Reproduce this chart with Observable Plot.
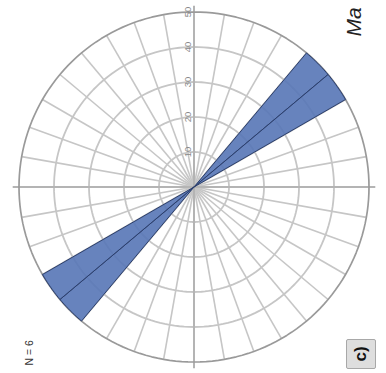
<!DOCTYPE html>
<html>
<head>
<meta charset="utf-8">
<script src="https://cdn.jsdelivr.net/npm/d3@7"></script>
<script src="https://cdn.jsdelivr.net/npm/@observablehq/plot@0.6"></script>
<style>
  html, body { margin: 0; padding: 0; background: #fff; }
  #chart { position: relative; width: 386px; height: 373px; overflow: hidden; }
  #chart svg { display: block; }
  .tag {
    position: absolute; left: 346px; top: 339px; width: 30px; height: 30px;
    box-sizing: border-box; background: #dedede; border: 1px solid #a8a8a8; border-radius: 2px;
    display: flex; align-items: center; justify-content: center;
  }
  .tag span {
    display: inline-block; transform: rotate(-90deg);
    font: 600 17px "Liberation Sans", Arial, sans-serif; color: #111;
  }
</style>
</head>
<body>
<div id="chart"></div>
<script>
// Rose diagram of strike azimuths (bidirectional, 10° bins), radius in percent of N.
const N = 6;
const binStart = [130, 140];      // azimuth of each occupied bin, degrees
const binCounts = [3, 3];         // measurements in each bin
const binWidth = 10;
const ringValues = [10, 20, 30, 40, 50];
const ringLabels = ["10", "20", "30", "40", "50"];
const spokeAzimuths = d3.range(0, 360, 10);
const axisAzimuths = [0, 90, 180, 270];
const title = "Ma";
const panelTag = "c)";

// layout
const W = 386, H = 373;
const CX = 193.5, CY = 186.5;     // centre of the rose, px
const R = 175;                    // px radius of the outer ring
const rMax = ringValues[ringValues.length - 1];
const k = R / rMax;

// the diagram is drawn turned a quarter turn: north points left
const toXY = (az, r) => {
  const t = (180 - az) * Math.PI / 180;
  return [r * Math.cos(t), r * Math.sin(t)];
};

// ring outlines
const ringPts = [];
for (const r of ringValues) {
  for (let a = 0; a <= 360; a += 2) {
    const [x, y] = toXY(a, r);
    ringPts.push({ring: r, x, y, outer: r === rMax});
  }
}

// spokes
const spokes = spokeAzimuths.map(az => {
  const [x2, y2] = toXY(az, rMax);
  return {x1: 0, y1: 0, x2, y2};
});
const axes = axisAzimuths.map(az => {
  const [x2, y2] = toXY(az, rMax + 1.8);
  return {x1: 0, y1: 0, x2, y2};
});

// petals (each bin mirrored through 180°)
const petalPts = [];
binStart.forEach((b, i) => {
  const pct = binCounts[i] / N * 100;
  for (const off of [0, 180]) {
    const id = `${i}-${off}`;
    petalPts.push({id, x: 0, y: 0});
    for (let a = b + off; a <= b + off + binWidth + 1e-9; a += 1) {
      const [x, y] = toXY(a, pct);
      petalPts.push({id, x, y});
    }
    petalPts.push({id, x: 0, y: 0});
  }
});

const labels = ringValues.map((r, i) => ({r, text: ringLabels[i]}));

const chart = Plot.plot({
  width: W,
  height: H,
  margin: 0,
  x: {domain: [-CX / k, (W - CX) / k], axis: null},
  y: {domain: [-(H - CY) / k, CY / k], axis: null},
  style: {background: "#fff"},
  marks: [
    Plot.line(ringPts.filter(d => !d.outer), {x: "x", y: "y", z: "ring", stroke: "#c6c6c6", strokeWidth: 1.8}),
    Plot.link(spokes, {x1: "x1", y1: "y1", x2: "x2", y2: "y2", stroke: "#c6c6c6", strokeWidth: 1.6}),
    Plot.link(axes, {x1: "x1", y1: "y1", x2: "x2", y2: "y2", stroke: "#b4b4b4", strokeWidth: 2}),
    Plot.line(ringPts.filter(d => d.outer), {x: "x", y: "y", z: "ring", stroke: "#9a9a9a", strokeWidth: 1.7}),
    Plot.line(petalPts, {x: "x", y: "y", z: "id", fill: "#5675b6", fillOpacity: 0.9, stroke: "#2c3f6c", strokeWidth: 1}),
    Plot.text(labels, {x: 0, y: "r", dx: -6, text: "text", rotate: -90, fontSize: 9.5, fill: "#888", fontFamily: "Liberation Sans, Arial, sans-serif"}),
    Plot.text([title], {frameAnchor: "top-left", dx: 346, dy: 36, text: d => d, rotate: -90, textAnchor: "start", fontSize: 21, fontStyle: "italic", fill: "#222", fontFamily: "Liberation Sans, Arial, sans-serif"}),
    Plot.text([`N = ${N}`], {frameAnchor: "top-left", dx: 25, dy: 365, text: d => d, rotate: -90, textAnchor: "start", fontSize: 10.5, fill: "#333", fontFamily: "Liberation Sans, Arial, sans-serif"})
  ]
});

const host = document.getElementById("chart");
host.appendChild(chart);
const tag = document.createElement("div");
tag.className = "tag";
tag.innerHTML = `<span>${panelTag}</span>`;
host.appendChild(tag);
</script>
</body>
</html>
